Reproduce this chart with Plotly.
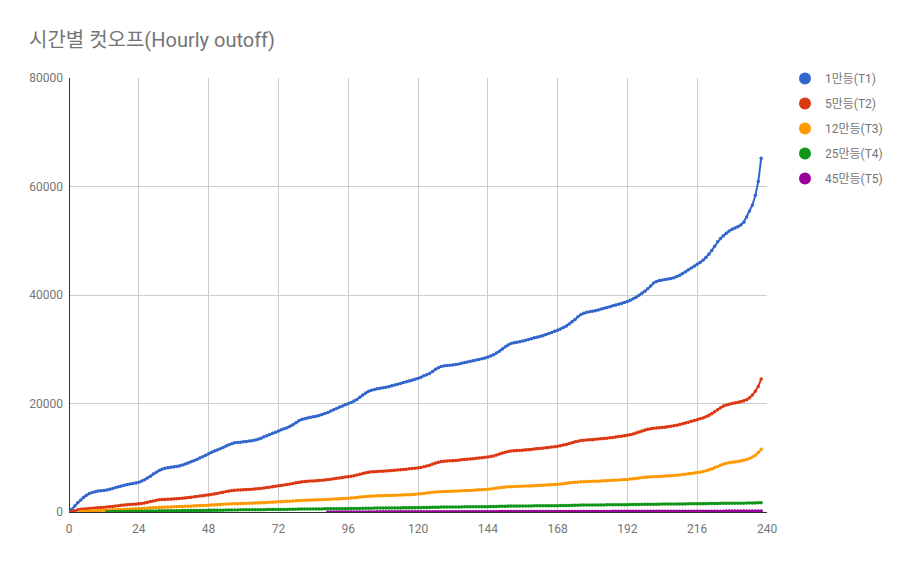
import plotly.graph_objects as go

hours = list(range(0, 239))

t1 = [0, 500, 1100, 1700, 2200, 2700, 3100, 3400, 3600, 3750, 3850, 3900, 3950, 4050, 4200, 4350, 4500, 4650, 4800, 4950, 5050, 5150, 5250, 5350,
      5500, 5700, 5950, 6250, 6600, 7000, 7350, 7650, 7900, 8050, 8150, 8250, 8300, 8400, 8500, 8650, 8850, 9050, 9250, 9450, 9700, 9950, 10200, 10450,
      10750, 11000, 11250, 11450, 11650, 11900, 12150, 12400, 12600, 12750, 12820, 12880, 12950, 13000, 13080, 13150, 13250, 13400, 13600, 13850, 14050, 14300, 14500, 14700,
      14950, 15150, 15350, 15550, 15800, 16100, 16450, 16800, 17050, 17200, 17350, 17450, 17550, 17650, 17800, 17950, 18150, 18350, 18600, 18850, 19100, 19350, 19550, 19750,
      19950, 20200, 20450, 20750, 21150, 21550, 21950, 22250, 22450, 22600, 22700, 22800, 22900, 23000, 23100, 23250, 23400, 23550, 23700, 23850, 24000, 24150, 24300, 24450,
      24600, 24850, 25100, 25300, 25550, 25900, 26300, 26600, 26800, 26950, 27000, 27050, 27100, 27200, 27300, 27400, 27550, 27650, 27800, 27900, 28000, 28100, 28250, 28400,
      28550, 28750, 29000, 29300, 29650, 30050, 30450, 30800, 31050, 31200, 31300, 31400, 31500, 31650, 31800, 31950, 32100, 32200, 32350, 32500, 32700, 32900, 33100, 33300,
      33500, 33750, 34000, 34300, 34650, 35050, 35500, 36000, 36400, 36650, 36800, 36900, 37000, 37100, 37250, 37400, 37550, 37700, 37850, 38000, 38150, 38300, 38450, 38600,
      38800, 39050, 39300, 39600, 39950, 40300, 40700, 41150, 41650, 42200, 42500, 42650, 42750, 42850, 42950, 43050, 43200, 43400, 43650, 43950, 44300, 44650, 45000, 45300,
      45650, 46000, 46400, 46900, 47500, 48200, 49000, 49800, 50400, 50900, 51400, 51800, 52100, 52350, 52600, 52900, 53400, 54400, 55500, 56600, 58400, 60900, 65200]

t2 = [0, 100, 250, 400, 500, 560, 610, 650, 690, 730, 770, 810, 850, 900, 960, 1030, 1100, 1170, 1230, 1280, 1330, 1370, 1410, 1450,
      1500, 1580, 1680, 1800, 1930, 2050, 2160, 2240, 2290, 2320, 2340, 2370, 2400, 2440, 2490, 2540, 2600, 2660, 2720, 2790, 2860, 2930, 3000, 3080,
      3150, 3230, 3320, 3420, 3530, 3650, 3770, 3870, 3950, 4000, 4040, 4070, 4100, 4130, 4160, 4190, 4230, 4280, 4350, 4420, 4500, 4580, 4660, 4740,
      4820, 4900, 4980, 5060, 5150, 5260, 5380, 5480, 5560, 5620, 5660, 5700, 5730, 5760, 5800, 5850, 5910, 5980, 6050, 6120, 6200, 6280, 6360, 6440,
      6520, 6600, 6700, 6820, 6960, 7100, 7230, 7330, 7400, 7440, 7470, 7500, 7530, 7560, 7600, 7640, 7690, 7740, 7790, 7840, 7890, 7950, 8000, 8060,
      8130, 8220, 8330, 8470, 8640, 8830, 9020, 9180, 9300, 9370, 9410, 9440, 9470, 9510, 9560, 9610, 9660, 9710, 9770, 9830, 9890, 9950, 10010, 10070,
      10130, 10220, 10340, 10490, 10670, 10860, 11030, 11160, 11240, 11290, 11320, 11350, 11390, 11430, 11480, 11530, 11590, 11650, 11710, 11770, 11840, 11910, 11980, 12050,
      12130, 12220, 12330, 12460, 12610, 12770, 12930, 13060, 13160, 13220, 13260, 13300, 13340, 13390, 13440, 13490, 13550, 13610, 13680, 13750, 13820, 13900, 13980, 14060,
      14150, 14260, 14390, 14550, 14730, 14920, 15100, 15240, 15340, 15420, 15480, 15530, 15580, 15640, 15710, 15790, 15880, 15990, 16120, 16260, 16410, 16560, 16710, 16860,
      17010, 17170, 17350, 17560, 17810, 18110, 18460, 18850, 19230, 19530, 19740, 19880, 19990, 20090, 20200, 20320, 20480, 20710, 21050, 21550, 22250, 23150, 24500]

t3 = [None, None, None, None,
      100, 130, 160, 190, 210, 240, 260, 290, 320, 340, 370, 400, 420, 450, 470, 500, 520, 540, 570, 600,
      620, 650, 690, 730, 770, 810, 840, 860, 880, 900, 920, 940, 960, 980, 1000, 1020, 1040, 1060, 1080, 1100, 1130, 1160, 1190, 1220,
      1250, 1280, 1310, 1340, 1380, 1420, 1460, 1490, 1510, 1530, 1540, 1560, 1570, 1590, 1600, 1620, 1640, 1660, 1690, 1720, 1750, 1780, 1810, 1840,
      1870, 1900, 1930, 1960, 1990, 2030, 2070, 2110, 2140, 2160, 2180, 2200, 2220, 2240, 2260, 2280, 2300, 2320, 2350, 2380, 2410, 2440, 2470, 2500,
      2530, 2570, 2620, 2680, 2750, 2820, 2880, 2920, 2950, 2970, 2990, 3000, 3010, 3030, 3050, 3060, 3080, 3100, 3120, 3140, 3170, 3200, 3230, 3260,
      3300, 3350, 3410, 3480, 3550, 3620, 3680, 3720, 3750, 3770, 3790, 3810, 3830, 3850, 3870, 3900, 3920, 3950, 3980, 4010, 4040, 4080, 4120, 4160,
      4200, 4260, 4330, 4410, 4490, 4560, 4610, 4650, 4670, 4690, 4710, 4730, 4750, 4770, 4790, 4810, 4840, 4870, 4900, 4930, 4960, 4990, 5030, 5070,
      5110, 5160, 5220, 5290, 5370, 5440, 5500, 5540, 5570, 5590, 5610, 5630, 5650, 5670, 5690, 5710, 5740, 5770, 5800, 5830, 5860, 5890, 5930, 5970,
      6010, 6060, 6120, 6190, 6270, 6350, 6420, 6470, 6500, 6520, 6540, 6560, 6590, 6620, 6650, 6690, 6730, 6780, 6840, 6900, 6970, 7040, 7110, 7180,
      7260, 7350, 7460, 7600, 7760, 7940, 8140, 8380, 8620, 8830, 8970, 9070, 9150, 9230, 9310, 9400, 9520, 9680, 9880, 10120, 10470, 10950, 11550]

t4 = [None] * 13 + [
      50, 60, 70, 80, 90, 100, 110, 115, 120, 125, 130, 135,
      145, 155, 165, 180, 195, 205, 215, 220, 225, 230, 235, 240, 245, 250, 255, 260, 265, 270, 275, 280, 285, 290, 295, 300,
      305, 310, 320, 330, 345, 360, 370, 380, 385, 390, 395, 400, 405, 410, 415, 420, 425, 430, 435, 440, 445, 450, 455, 460,
      465, 470, 475, 485, 500, 515, 530, 540, 545, 550, 555, 560, 565, 570, 575, 580, 585, 590, 595, 600, 605, 610, 615, 620,
      625, 630, 640, 655, 670, 685, 700, 710, 715, 720, 725, 730, 735, 740, 745, 750, 755, 760, 765, 770, 775, 780, 785, 790,
      800, 810, 820, 840, 860, 880, 895, 905, 910, 915, 920, 925, 930, 935, 940, 945, 950, 955, 960, 965, 970, 975, 980, 990,
      1000, 1010, 1025, 1040, 1060, 1075, 1085, 1090, 1095, 1100, 1105, 1110, 1115, 1120, 1125, 1130, 1135, 1140, 1145, 1150, 1155, 1160, 1165, 1170,
      1180, 1190, 1205, 1220, 1240, 1255, 1265, 1270, 1275, 1280, 1285, 1290, 1295, 1300, 1305, 1310, 1315, 1320, 1325, 1330, 1335, 1340, 1345, 1350,
      1360, 1370, 1385, 1400, 1415, 1425, 1430, 1435, 1440, 1445, 1450, 1455, 1460, 1465, 1470, 1475, 1480, 1485, 1490, 1495, 1500, 1505, 1510, 1515,
      1520, 1530, 1540, 1550, 1560, 1570, 1580, 1590, 1595, 1600, 1605, 1610, 1615, 1620, 1625, 1630, 1640, 1650, 1660, 1670, 1685, 1700]

t5 = [None] * 89 + [
      5, 6, 7, 8, 9, 10, 11, 12,
      13, 14, 15, 17, 18, 20, 21, 22, 23, 24, 25, 26, 27, 28, 29, 30, 31, 32, 33, 34, 35, 36, 37, 38,
      39, 40, 42, 43, 45, 47, 49, 50, 51, 52, 53, 54, 55, 56, 57, 58, 59, 60, 61, 62, 63, 64, 65, 66,
      67, 68, 69, 71, 73, 75, 76, 77, 78, 79, 80, 81, 82, 83, 84, 85, 86, 87, 88, 89, 90, 91, 92, 93,
      94, 95, 97, 98, 100, 102, 104, 105, 106, 107, 108, 109, 110, 111, 112, 113, 114, 115, 116, 117, 118, 119, 120, 121,
      122, 123, 124, 126, 128, 130, 131, 132, 133, 134, 135, 136, 137, 138, 139, 140, 141, 142, 143, 144, 145, 146, 147, 148,
      149, 150, 152, 153, 155, 157, 159, 160, 161, 162, 163, 164, 165, 166, 167, 168, 169, 171, 173, 175, 178, 181]

series_names = ["1만등(T1)", "5만등(T2)", "12만등(T3)", "25만등(T4)", "45만등(T5)"]
series_values = [t1, t2, t3, t4, t5]
colors = ["#3366cc", "#dc3912", "#ff9900", "#109618", "#990099"]

x_ticks = [0, 24, 48, 72, 96, 120, 144, 168, 192, 216, 240]
y_ticks = [0, 20000, 40000, 60000, 80000]

FONT = "Roboto, 'Noto Sans CJK KR', sans-serif"

fig = go.Figure()
for name, vals, col in zip(series_names, series_values, colors):
    fig.add_trace(go.Scatter(
        x=hours, y=vals, mode="lines+markers", name=name,
        line=dict(color=col, width=2), marker=dict(color=col, size=3.5),
        showlegend=False, hoverinfo="skip"))
for i, (name, col) in enumerate(zip(series_names, colors)):
    fig.add_trace(go.Scatter(
        x=[None], y=[None], mode="markers", name=name, legendgroup=str(i),
        marker=dict(color=col, size=12), showlegend=True))

fig.update_layout(
    width=907, height=561,
    margin=dict(l=69, r=140, t=78, b=49),
    paper_bgcolor="white", plot_bgcolor="white",
    font=dict(family=FONT, size=12, color="#757575"),
    title=dict(text="시간별 컷오프(Hourly outoff)", x=29 / 907, xref="container", xanchor="left",
               y=1 - 40 / 561, yref="container", yanchor="middle",
               font=dict(family=FONT, size=20, color="#757575")),
    legend=dict(x=(785 - 69) / 698, y=1 + 14 / 434, xanchor="left", yanchor="top",
                font=dict(family=FONT, size=12, color="#757575"),
                tracegroupgap=6, itemsizing="trace", bgcolor="rgba(0,0,0,0)"),
    xaxis=dict(range=[0, 240], tickvals=x_ticks, ticktext=[str(v) for v in x_ticks],
               showgrid=True, gridcolor="#cccccc", gridwidth=1,
               zeroline=True, zerolinecolor="#333333", zerolinewidth=1,
               showline=False, ticks="", ticklabelstandoff=8,
               tickfont=dict(size=12, color="#757575")),
    yaxis=dict(range=[0, 80000], tickvals=y_ticks, ticktext=[str(v) for v in y_ticks],
               showgrid=True, gridcolor="#cccccc", gridwidth=1,
               zeroline=True, zerolinecolor="#333333", zerolinewidth=1,
               showline=False, ticks="", ticklabelstandoff=5,
               tickfont=dict(size=12, color="#757575")),
)

fig.write_html("out.html")
